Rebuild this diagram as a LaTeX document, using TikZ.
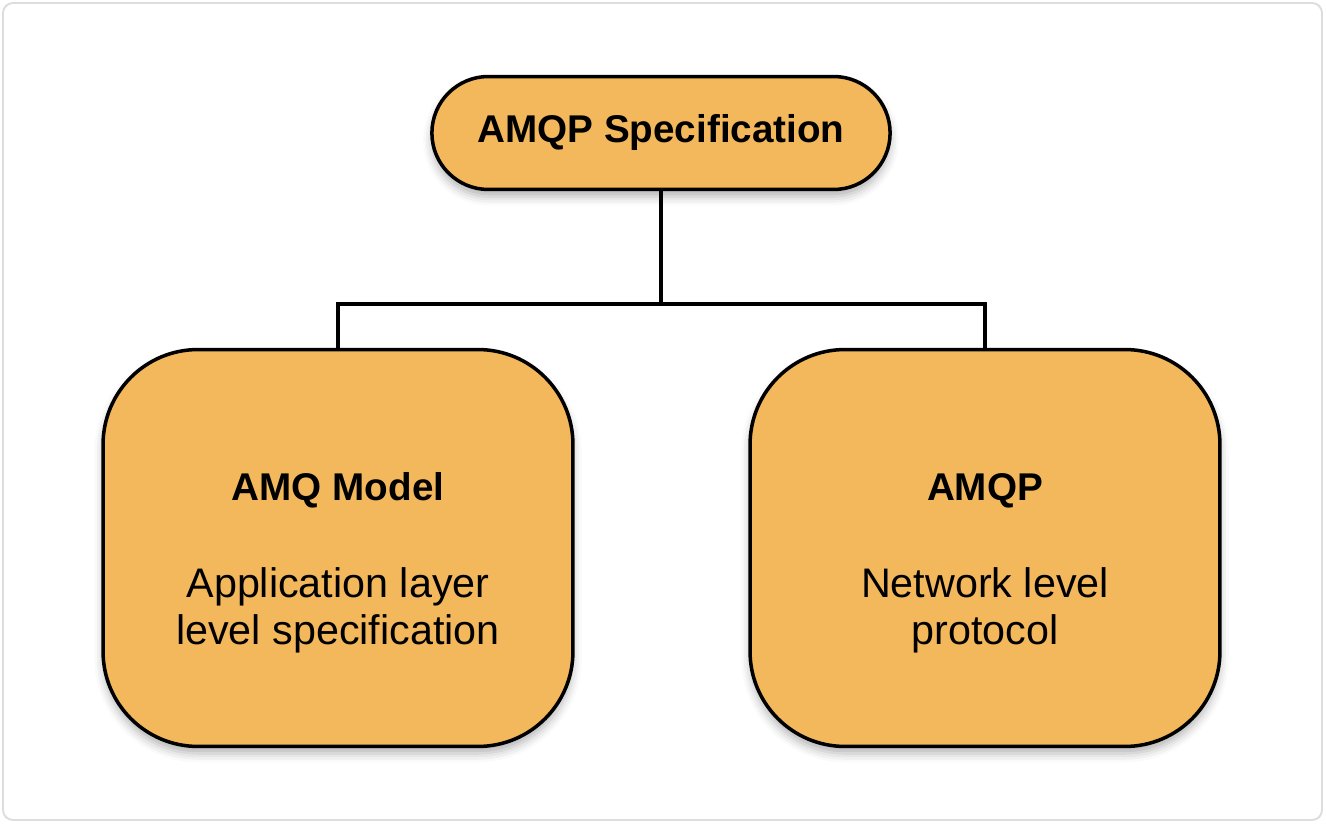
\documentclass[tikz,border=0pt]{standalone}
\usepackage{fontspec}
\setmainfont{Liberation Sans}
\usetikzlibrary{shapes.misc,shadows.blur}
\definecolor{boxfill}{HTML}{F3B75C}
\definecolor{framegray}{HTML}{DDDDDD}

\begin{document}
\begin{tikzpicture}[x=0.02cm,y=-0.02cm,
  softshadow/.style={blur shadow={shadow xshift=0pt,shadow yshift=-4pt,shadow blur radius=5pt,shadow opacity=30}},
  pill/.style={draw=black,line width=2pt,fill=boxfill,rounded rectangle,
    minimum width=9.4cm,minimum height=2.26cm,softshadow,
    font=\fontsize{22pt}{26.7pt}\selectfont\bfseries},
  bigbox/.style={draw=black,line width=2pt,fill=boxfill,rounded corners=1.9cm,
    minimum width=9.4cm,minimum height=7.94cm,softshadow},
  boxtitle/.style={anchor=base,font=\fontsize{22pt}{26.7pt}\selectfont\bfseries},
  boxtext/.style={anchor=base,font=\fontsize{23.5pt}{26.7pt}\selectfont},
  wire/.style={line width=2pt}]
  \useasboundingbox (0,0) rectangle (1326,824);
  \draw[framegray,line width=1.1pt,rounded corners=0.2cm] (3,3) rectangle (1322,820);
  \node[pill] (spec) at (661,133) {AMQP Specification};
  \node[bigbox] (model) at (338,548) {};
  \node[bigbox] (proto) at (985,548) {};
  \coordinate (fork) at (661,304);
  \draw[wire] (spec.south) -- (fork) (model.north) |- (fork) -| (proto.north);
  \node[boxtitle] (modeltitle) at (338,500) {AMQ Model};
  \node[boxtext] (modelline1) at (338,597) {Application layer};
  \node[boxtext] (modelline2) at (338,644) {level specification};
  \node[boxtitle] (prototitle) at (985,500) {AMQP};
  \node[boxtext] (protoline1) at (985,597) {Network level};
  \node[boxtext] (protoline2) at (985,644) {protocol};
\end{tikzpicture}
\end{document}
